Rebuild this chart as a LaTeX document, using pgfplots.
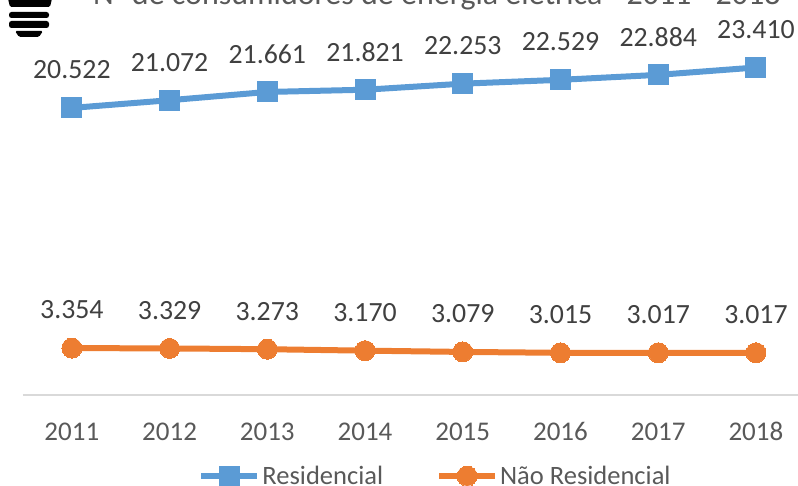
\documentclass[border=0pt]{standalone}
\usepackage{fontspec}
\setmainfont{Carlito}
\usepackage{pgfplots}
\pgfplotsset{compat=1.18}
\definecolor{bl}{HTML}{5B9BD5}
\definecolor{orr}{HTML}{ED7D31}
\definecolor{tk}{HTML}{595959}
\definecolor{lb}{HTML}{404040}
\begin{document}
\begin{tikzpicture}[x=1pt,y=1pt]
\useasboundingbox (0,0) rectangle (798,485);
\clip (0,0) rectangle (798,485);
\node[anchor=base west,inner sep=0pt,text=tk,font=\fontsize{32}{35}\selectfont] at (93,480) {N° de consumidores de energia elétrica - 2011 - 2018};
% lamp icon
\fill[black,rounded corners=1.5pt] (8,486) -- (52,486) -- (50,478) -- (10,478) -- cycle;
\fill[black,rounded corners=2.5pt] (9,467) rectangle (49,473);
\fill[black,rounded corners=2.5pt] (9,457) rectangle (49,464);
\fill[black,rounded corners=1.5pt] (15,454) -- (43,454) -- (39,448) -- (19,448) -- cycle;
\begin{axis}[
  at={(23pt,90pt)},anchor=south west,
  scale only axis,width=775pt,height=395pt,
  xmin=2010.5,xmax=2018.43,ymin=0,ymax=28235,
  clip=false,
  axis y line=none,
  axis x line=bottom,
  axis line style={draw=black!15,line width=1.5pt,-},
  x axis line style={-},
  xtick={2011,...,2018},
  xticklabel style={/pgf/number format/1000 sep={},text=tk,font=\fontsize{27}{29}\selectfont,anchor=base,yshift=-45pt},
  /pgf/number format/assume math mode=true,
  major tick length=0pt,
  nodes near coords,
  nodes near coords style={/pgf/number format/1000 sep={.},/pgf/number format/fixed,/pgf/number format/precision=0,text=lb,font=\fontsize{27.8}{30}\selectfont,anchor=center,yshift=38pt},
  legend columns=2,
  legend style={draw=none,fill=none,at={(412.5pt,-81pt)},anchor=center,font=\fontsize{26.5}{29}\selectfont,text=tk,inner sep=0pt,outer sep=0pt,
    /tikz/every even column/.append style={column sep=51pt}},
  legend image code/.code={\draw[mark repeat=2,mark phase=2,#1] plot coordinates {(0pt,0pt)(28pt,0pt)(56pt,0pt)};},
]
\addplot[bl,line width=6pt,mark=square*,mark size=10pt,mark options={fill=bl,draw=bl,line width=0pt}] coordinates {
(2011,20522)(2012,21072)(2013,21661)(2014,21821)(2015,22253)(2016,22529)(2017,22884)(2018,23410)};
\addlegendentry{Residencial}
\addplot[orr,line width=6pt,mark=*,mark size=10pt,mark options={fill=orr,draw=orr,line width=0pt}] coordinates {
(2011,3354)(2012,3329)(2013,3273)(2014,3170)(2015,3079)(2016,3015)(2017,3017)(2018,3017)};
\addlegendentry{Não Residencial}
\end{axis}
\end{tikzpicture}
\end{document}
